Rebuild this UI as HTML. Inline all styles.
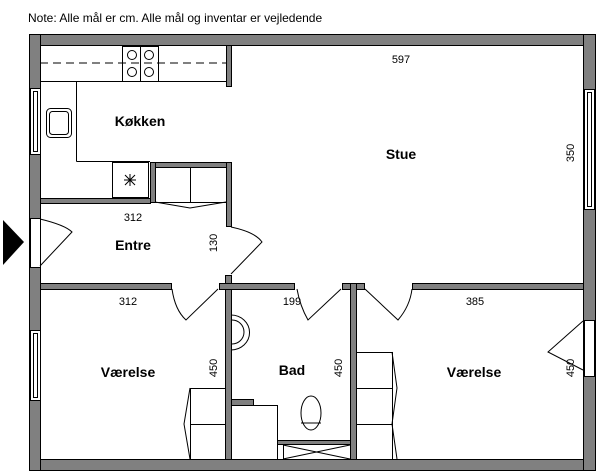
<!DOCTYPE html>
<html><head><meta charset="utf-8"><style>
html,body{margin:0;padding:0;background:#fff;width:600px;height:475px;overflow:hidden}
svg{display:block}
text{font-family:"Liberation Sans",sans-serif}
</style></head><body>
<svg width="600" height="475" viewBox="0 0 600 475" xmlns="http://www.w3.org/2000/svg">
<text x="28" y="22" font-size="12" fill="#000">Note: Alle mål er cm. Alle mål og inventar er vejledende</text>
<g fill="#808080" stroke="#000" stroke-width="1">
<rect x="29.5" y="34.5" width="566" height="11"/>
<rect x="29.5" y="459.5" width="566" height="11"/>
<rect x="29.5" y="34.5" width="11" height="436"/>
<rect x="583.5" y="34.5" width="12" height="436"/>
<rect x="226.5" y="45.5" width="5" height="41"/>
<rect x="150.5" y="162.5" width="81" height="5"/>
<rect x="150.5" y="162.5" width="5" height="40"/>
<rect x="226.5" y="162.5" width="5" height="64"/>
<rect x="40.5" y="198.5" width="110" height="5"/>
<rect x="225.5" y="275.5" width="6" height="184"/>
<rect x="40.5" y="283.5" width="131" height="6"/>
<rect x="219.5" y="283.5" width="75" height="6"/>
<rect x="342.5" y="283.5" width="22" height="6"/>
<rect x="412.5" y="283.5" width="171" height="6"/>
<rect x="350.5" y="283.5" width="6" height="176"/>
<rect x="231.5" y="399.5" width="22" height="6"/>
<rect x="277.5" y="440.5" width="73" height="4"/>
</g>
<g fill="#fff" stroke="#000" stroke-width="1">
<rect x="30.5" y="88.5" width="10" height="66"/>
<rect x="33.5" y="91.5" width="4" height="60"/>
<rect x="30.5" y="330.5" width="10" height="70"/>
<rect x="33.5" y="333.5" width="4" height="64"/>
<rect x="584.5" y="89.5" width="10" height="120"/>
<rect x="587.5" y="92.5" width="4" height="114"/>
<rect x="584.5" y="320.5" width="10" height="56"/>
<rect x="30.5" y="218.5" width="10" height="49"/>
</g>
<polygon points="3,220 24,242 3,265" fill="#000"/>
<g fill="none" stroke="#000" stroke-width="1">
<line x1="40" y1="81.5" x2="226" y2="81.5"/>
<line x1="76.5" y1="81.5" x2="76.5" y2="161.5"/>
<line x1="76.5" y1="161.5" x2="150" y2="161.5"/>
<line x1="40" y1="63" x2="226" y2="63" stroke-dasharray="8,5"/>
<rect x="122.5" y="46.5" width="36" height="35"/>
<line x1="140.5" y1="46" x2="140.5" y2="81"/>
<circle cx="132" cy="55" r="4.5"/><circle cx="149" cy="55" r="4.5"/>
<circle cx="132" cy="72" r="4.5"/><circle cx="149" cy="72" r="4.5"/>
<rect x="46.5" y="108.5" width="25" height="29" rx="4"/>
<rect x="49.5" y="111.5" width="19" height="23" rx="3"/>
<rect x="112.5" y="162.5" width="36" height="35"/>
<path d="M124 180h12M130 174v12M125 175l10 10M135 175l-10 10"/>
<rect x="155.5" y="167.5" width="71" height="35"/>
<line x1="190.5" y1="167" x2="190.5" y2="202"/>
<path d="M155 202l35 6l36-6"/>
<path d="M40 219 Q65 225 72 232 L40 266"/>
<path d="M231 227 Q255 232 262 242 L231 274"/>
<path d="M172 289 Q175 310 186 320 L218 289"/>
<path d="M297 289 Q300 306 308 320 L341 289"/>
<path d="M412 289 Q410 306 398 320 L365 289"/>
<path d="M583 321 L548 352 L583 370"/>
<rect x="190.5" y="388.5" width="35" height="71"/>
<line x1="190" y1="424.5" x2="225" y2="424.5"/>
<path d="M190 388 L184 424 L190 459"/>
<path d="M231 315 A18 17 0 0 1 231 350"/>
<path d="M232 320 A12 12 0 0 1 232 344"/>
<rect x="231.5" y="405.5" width="46" height="54"/>
<ellipse cx="311" cy="413" rx="10" ry="17"/>
<line x1="301" y1="423" x2="321" y2="423"/>
<rect x="283.5" y="444.5" width="67" height="15"/>
<path d="M283 445 L350 459 M350 445 L283 459"/>
<rect x="356.5" y="352.5" width="36" height="107"/>
<line x1="356" y1="388.5" x2="392" y2="388.5"/>
<line x1="356" y1="424.5" x2="392" y2="424.5"/>
<path d="M392 352 L397 388 L392 424 L397 459"/>
</g>
<g font-size="14" font-weight="bold" fill="#000" text-anchor="middle">
<text x="140" y="126">Køkken</text>
<text x="133" y="250">Entre</text>
<text x="401" y="159">Stue</text>
<text x="128" y="377">Værelse</text>
<text x="292" y="375">Bad</text>
<text x="474" y="377">Værelse</text>
</g>
<g font-size="11" fill="#000" text-anchor="middle">
<text x="401" y="63">597</text>
<text x="133" y="221">312</text>
<text x="128" y="305">312</text>
<text x="292" y="305">199</text>
<text x="475" y="305">385</text>
<text transform="translate(217,243) rotate(-90)">130</text>
<text transform="translate(574,153) rotate(-90)">350</text>
<text transform="translate(217,368) rotate(-90)">450</text>
<text transform="translate(342,368) rotate(-90)">450</text>
<text transform="translate(574,368) rotate(-90)">450</text>
</g>
</svg>
</body></html>
